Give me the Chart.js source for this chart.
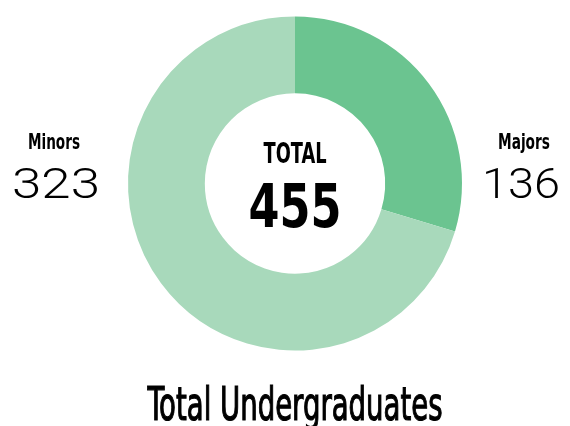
<!DOCTYPE html>
<html>
<head>
<meta charset="utf-8">
<script src="https://cdn.jsdelivr.net/npm/chart.js@4"></script>
<style>
  html, body { margin: 0; padding: 0; background: #fff; }
  #wrap { width: 570px; height: 426px; }
</style>
</head>
<body>
<div id="wrap"><canvas id="undergradChart" width="570" height="426"></canvas></div>
<script>
// data
const categories = ['Majors', 'Minors'];
const counts = [136, 323];
const sliceColors = ['#6bc490', '#a8d9bb'];
const centerLabel = 'TOTAL';
const centerValue = '455';
const chartTitle = 'Total Undergraduates';

const condensed = '"Liberation Sans Narrow", "DejaVu Sans Condensed", "Roboto Condensed", "Liberation Sans", sans-serif';
const plain = 'Roboto, "DejaVu Sans", sans-serif';

// draw text centred on x, squeezed horizontally to a given width
function squeezeText(ctx, text, x, y, font, width, stroke) {
    ctx.save();
    ctx.font = font;
    const w = ctx.measureText(text).width;
    const sx = width / w;
    ctx.translate(x, y);
    ctx.scale(sx, 1);
    ctx.textAlign = 'center';
    ctx.textBaseline = 'alphabetic';
    ctx.fillStyle = '#000';
    ctx.fillText(text, 0, 0);
    if (stroke) {
        ctx.strokeStyle = '#000';
        ctx.lineWidth = stroke;
        ctx.strokeText(text, 0, 0);
    }
    ctx.restore();
}

const labelPlugin = {
    id: 'labelPlugin',
    afterDraw(chart) {
        const ctx = chart.ctx;
        const arc = chart.getDatasetMeta(0).data[0];
        const cx = arc.x;

        // centre text
        squeezeText(ctx, centerLabel, cx, 163, 'bold 29px ' + condensed, 63);
        squeezeText(ctx, centerValue, cx, 227, 'bold 61px ' + condensed, 93);

        // side labels: Majors right, Minors left
        squeezeText(ctx, categories[0], 524, 149, 'bold 21px ' + condensed, 52);
        squeezeText(ctx, String(counts[0]), 521, 198, '300 42px ' + plain, 78);
        squeezeText(ctx, categories[1], 54, 149, 'bold 21px ' + condensed, 52);
        squeezeText(ctx, String(counts[1]), 56, 198, '300 42px ' + plain, 88);

        // title under the ring
        squeezeText(ctx, chartTitle, cx, 420, '46px ' + condensed, 295, 1.2);
    }
};

new Chart(document.getElementById('undergradChart'), {
    type: 'doughnut',
    data: {
        labels: categories,
        datasets: [{
            data: counts,
            backgroundColor: sliceColors,
            borderWidth: 0
        }]
    },
    options: {
        responsive: false,
        animation: false,
        cutout: '54%',
        layout: {
            padding: { left: 128, right: 108, top: 16, bottom: 75 }
        },
        plugins: {
            legend: { display: false },
            tooltip: { enabled: false }
        },
        events: []
    },
    plugins: [labelPlugin]
});
</script>
</body>
</html>
